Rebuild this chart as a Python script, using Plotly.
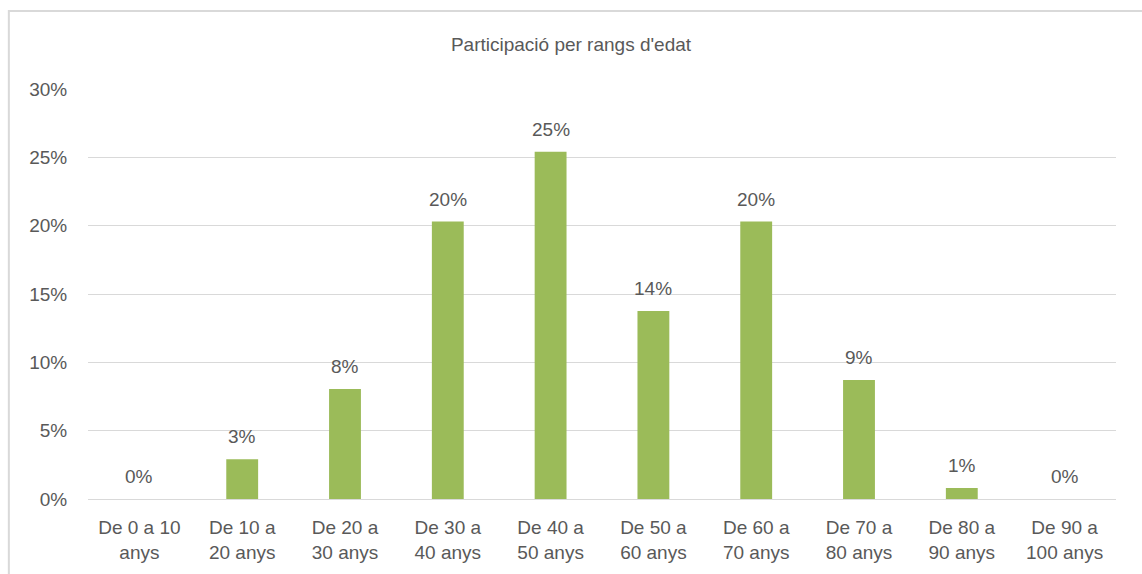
import plotly.graph_objects as go

# Dades
rangs = ["De 0 a 10<br>anys", "De 10 a<br>20 anys", "De 20 a<br>30 anys", "De 30 a<br>40 anys",
         "De 40 a<br>50 anys", "De 50 a<br>60 anys", "De 60 a<br>70 anys", "De 70 a<br>80 anys",
         "De 80 a<br>90 anys", "De 90 a<br>100 anys"]
participacio = [0.0, 2.9, 8.05, 20.3, 25.4, 13.75, 20.3, 8.7, 0.8, 0.0]
y_ticks = [0, 5, 10, 15, 20, 25, 30]

gris = "#595959"
font_nom = "Liberation Sans, Arial, sans-serif"

fig = go.Figure()

fig.add_trace(go.Bar(
    x=rangs,
    y=participacio,
    marker=dict(color="#9BBB59", line=dict(width=0)),
    hoverinfo="skip",
    showlegend=False
))

# Etiquetes de valor sobre les barres
for r, v in zip(rangs, participacio):
    fig.add_annotation(
        x=r, y=v,
        text=f"{v:.0f}%",
        showarrow=False,
        yanchor="bottom",
        yshift=10,
        font=dict(size=19, color=gris, family=font_nom)
    )

# Marc del gràfic
fig.add_shape(
    type="rect", xref="paper", yref="paper",
    x0=-0.077, x1=1.2, y0=-0.3, y1=1.19,
    line=dict(color="#d9d9d9", width=2),
    layer="below"
)

fig.update_layout(
    title=dict(
        text="Participació per rangs d'edat",
        x=0.5, xanchor="center",
        y=1 - 44 / 574, yanchor="middle",
        font=dict(size=19, color=gris, family=font_nom)
    ),
    width=1142,
    height=574,
    margin=dict(l=88, r=26, t=89, b=75),
    plot_bgcolor="white",
    paper_bgcolor="white",
    bargap=0.69,
    font=dict(family=font_nom, size=19, color=gris),
    xaxis=dict(
        showgrid=False,
        showline=False,
        ticks="outside",
        ticklen=11,
        tickcolor="rgba(0,0,0,0)",
        tickfont=dict(size=19, color=gris)
    ),
    yaxis=dict(
        range=[0, 30],
        tickvals=y_ticks,
        ticktext=[f"{t}%" for t in y_ticks],
        showgrid=True,
        gridcolor="#d9d9d9",
        gridwidth=1,
        zeroline=True,
        zerolinecolor="#d9d9d9",
        zerolinewidth=1,
        ticks="outside",
        ticklen=16,
        tickcolor="rgba(0,0,0,0)",
        tickfont=dict(size=19, color=gris)
    )
)

# treu el marge per defecte del body perquè el gràfic quedi a (0, 0)
fig.write_html("out.html", config={"displayModeBar": False},
               post_script="document.body.style.margin='0px';")
